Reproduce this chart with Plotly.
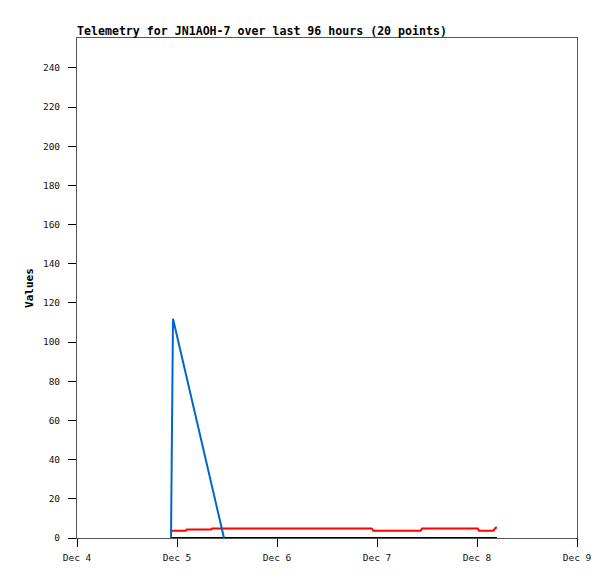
import plotly.graph_objects as go
from datetime import datetime, timedelta

# Time offsets (days after Dec 4 00:00) for the 20 telemetry points
day_offsets = [0.940, 0.945, 0.950, 0.960, 1.087, 1.097, 1.340, 1.350, 1.470, 2.200,
               2.947, 2.963, 3.200, 3.437, 3.450, 4.007, 4.020, 4.163, 4.185, 4.200]
blue_values = [0, 28, 84, 112, None, None, None, None, 0, None,
               None, None, None, None, None, None, None, None, None, None]
red_values = [3.7, 3.7, 3.7, 3.7, 3.7, 4.4, 4.4, 4.9, 4.9, 4.9,
              4.9, 3.7, 3.7, 3.7, 4.9, 4.9, 3.7, 3.7, 5.2, 5.2]
black_values = [0] * 20

x_ticks = ["2023-12-04", "2023-12-05", "2023-12-06", "2023-12-07", "2023-12-08", "2023-12-09"]
y_ticks = [0, 20, 40, 60, 80, 100, 120, 140, 160, 180, 200, 220, 240]

base = datetime(2023, 12, 4)
times = [base + timedelta(days=d) for d in day_offsets]

font = "DejaVu Sans Mono"
fig = go.Figure()
fig.add_trace(go.Scatter(x=times, y=red_values, mode="lines", line=dict(color="#ff0000", width=2), connectgaps=True))
fig.add_trace(go.Scatter(x=times, y=black_values, mode="lines", line=dict(color="#000000", width=2), connectgaps=True))
fig.add_trace(go.Scatter(x=times, y=blue_values, mode="lines", line=dict(color="#0066cc", width=2), connectgaps=True))

fig.update_layout(
    width=615, height=579,
    margin=dict(l=69, r=46, t=30, b=49),
    paper_bgcolor="white", plot_bgcolor="white",
    showlegend=False,
    title=dict(text="<b>Telemetry for JN1AOH-7 over last 96 hours (20 points)</b>",
               x=69 / 615, xanchor="left", y=1 - 23 / 579, yanchor="middle",
               font=dict(family=font, size=11.6, color="#000000")),
    font=dict(family=font, size=9.5, color="#111111"),
)
fig.update_xaxes(
    type="date", range=[x_ticks[0], x_ticks[-1]],
    tickvals=x_ticks, tickformat="%b %-d",
    showgrid=False, zeroline=False,
    showline=True, linecolor="#555555", linewidth=1, mirror=True,
    ticks="outside", ticklen=8, tickcolor="#000000",
    ticklabelstandoff=3,
)
fig.update_yaxes(
    range=[0, 255.3], tickvals=y_ticks,
    showgrid=False, zeroline=False,
    showline=True, linecolor="#555555", linewidth=1, mirror=True,
    ticks="outside", ticklen=8, tickcolor="#000000",
    ticklabelstandoff=6,
    title=dict(text="<b>Values</b>", font=dict(family=font, size=11, color="#000000"), standoff=7),
)
fig.write_html("out.html")
